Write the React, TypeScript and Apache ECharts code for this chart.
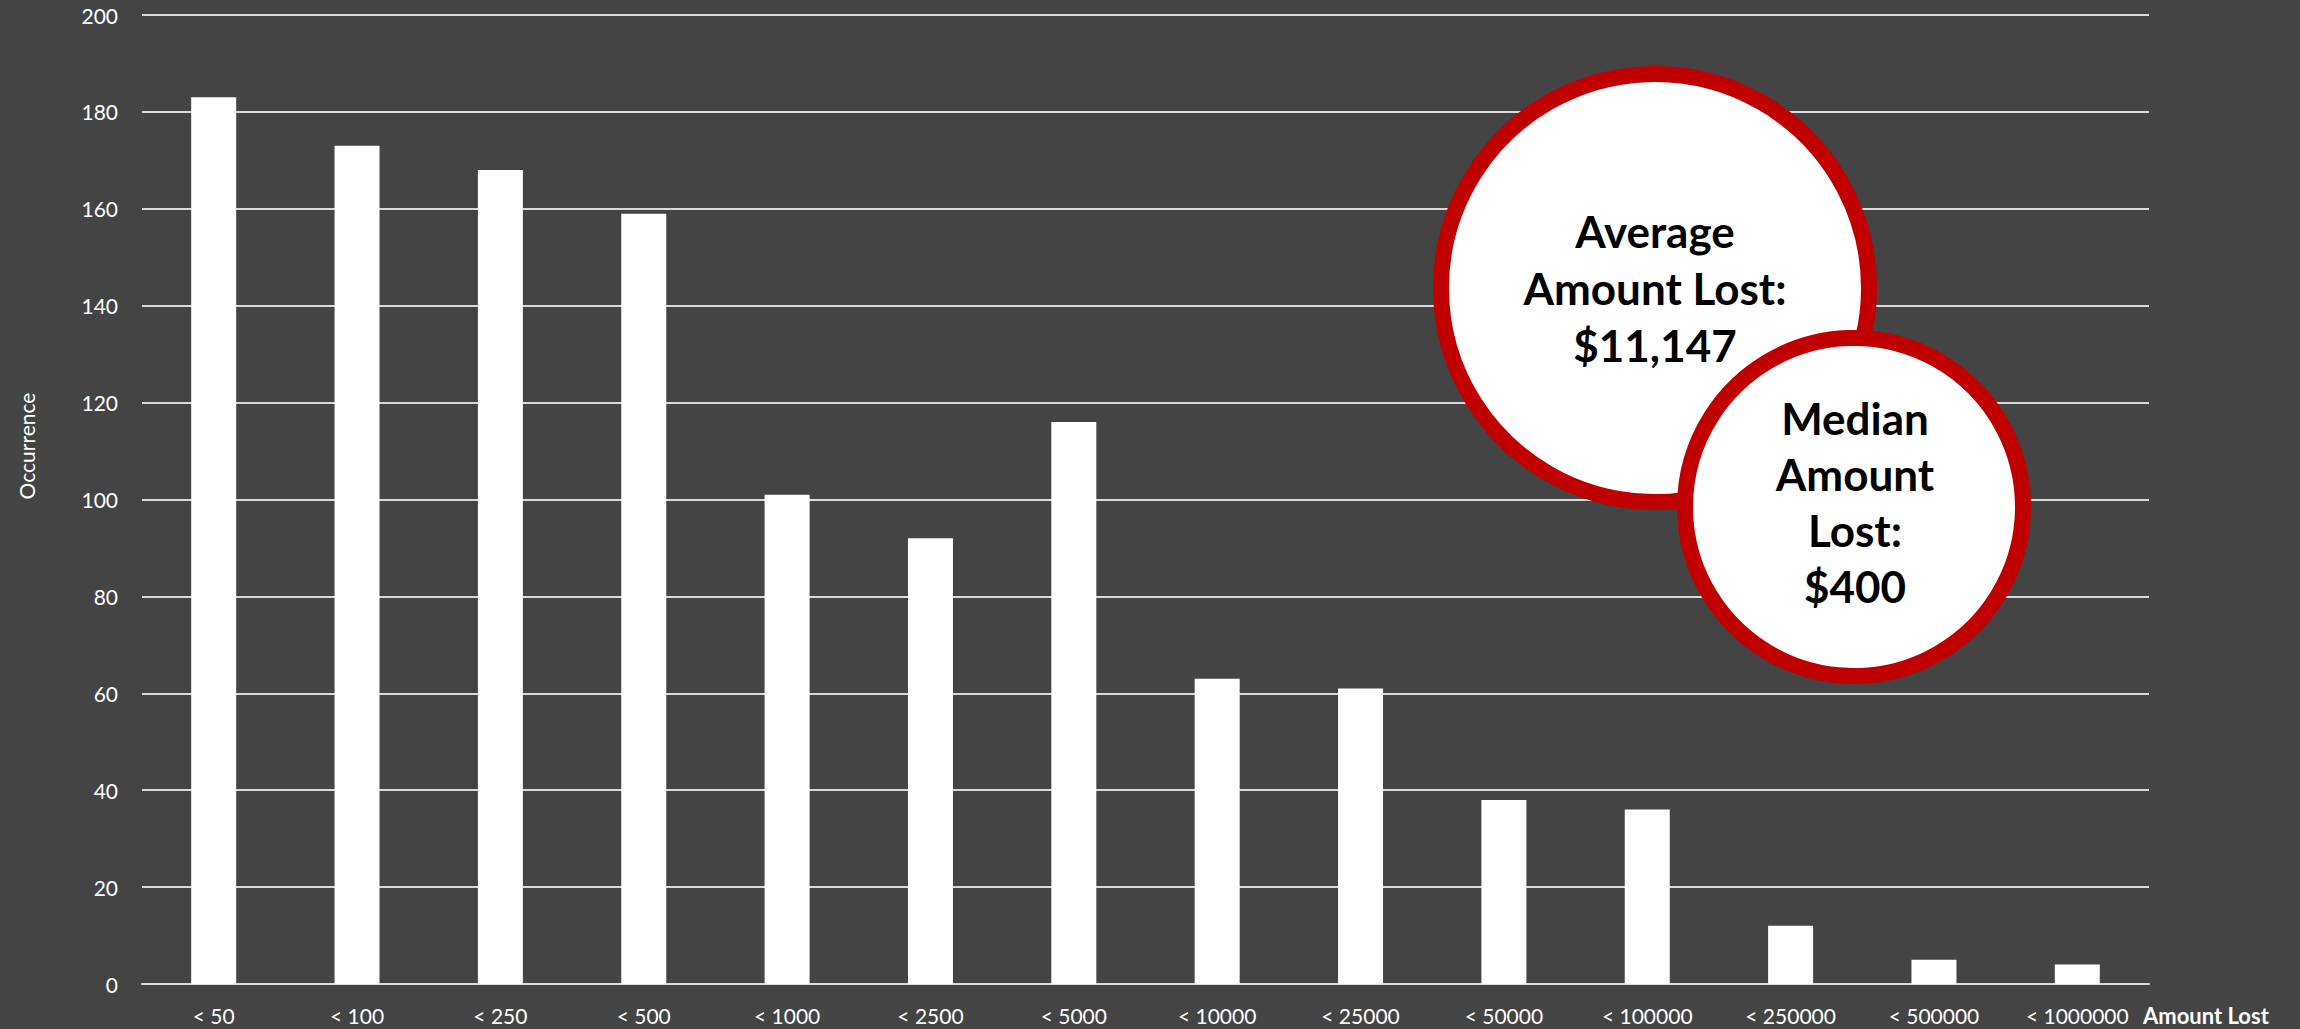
import React, { useEffect, useRef } from "react";
import * as echarts from "echarts";

const categories = ["< 50", "< 100", "< 250", "< 500", "< 1000", "< 2500", "< 5000", "< 10000", "< 25000", "< 50000", "< 100000", "< 250000", "< 500000", "< 1000000"];
const occurrences = [183, 173, 168, 159, 101, 92, 116, 63, 61, 38, 36, 12, 5, 4];
const yTicks = { min: 0, max: 200, interval: 20 };
const averageText = "Average\nAmount Lost:\n$11,147";
const medianText = "Median\nAmount\nLost:\n$400";
const xAxisTitle = "Amount Lost";
const yAxisTitle = "Occurrence";

const FONT = "Lato, 'Open Sans', sans-serif";

export default function App() {
  const ref = useRef<HTMLDivElement>(null);
  useEffect(() => {
    if (!ref.current) return;
    const chart = echarts.init(ref.current, null, { renderer: "svg" });
    chart.setOption({
      animation: false,
      backgroundColor: "#444444",
      grid: { left: 142, right: 151, top: 15, bottom: 45, containLabel: false },
      xAxis: {
        type: "category",
        data: categories,
        axisLine: { show: true, lineStyle: { color: "#d9d9d9", width: 2 } },
        axisTick: { show: false },
        axisLabel: { color: "#ffffff", fontSize: 21, fontFamily: FONT, margin: 21, interval: 0 },
      },
      yAxis: {
        type: "value",
        min: yTicks.min,
        max: yTicks.max,
        interval: yTicks.interval,
        axisLine: { show: false },
        axisTick: { show: false },
        axisLabel: { color: "#ffffff", fontSize: 21, fontFamily: FONT, margin: 24 },
        splitLine: { show: true, lineStyle: { color: "#d9d9d9", width: 2 } },
      },
      series: [
        {
          type: "bar",
          data: occurrences,
          barWidth: 45,
          itemStyle: { color: "#ffffff" },
        },
      ],
      graphic: [
        {
          type: "text",
          x: 26,
          y: 446,
          rotation: Math.PI / 2,
          style: {
            text: yAxisTitle,
            fill: "#ffffff",
            font: `21px ${FONT}`,
            textAlign: "center",
            textVerticalAlign: "middle",
          },
        },
        {
          type: "text",
          x: 2143,
          y: 1015,
          style: {
            text: xAxisTitle,
            fill: "#ffffff",
            font: `bold 22px ${FONT}`,
            textAlign: "left",
            textVerticalAlign: "middle",
          },
        },
        {
          type: "circle",
          shape: { cx: 1655, cy: 288, r: 214 },
          style: { fill: "#ffffff", stroke: "#C00000", lineWidth: 16 },
          z: 10,
        },
        {
          type: "text",
          x: 1655,
          y: 288,
          z: 11,
          style: {
            text: averageText,
            fill: "#000000",
            font: `bold 44px ${FONT}`,
            lineHeight: 57,
            textAlign: "center",
            textVerticalAlign: "middle",
          },
        },
        {
          type: "circle",
          shape: { cx: 1854, cy: 507, r: 169 },
          style: { fill: "#ffffff", stroke: "#C00000", lineWidth: 16 },
          z: 12,
        },
        {
          type: "text",
          x: 1855,
          y: 502,
          z: 13,
          style: {
            text: medianText,
            fill: "#000000",
            font: `bold 44px ${FONT}`,
            lineHeight: 56,
            textAlign: "center",
            textVerticalAlign: "middle",
          },
        },
      ],
    });
    return () => chart.dispose();
  }, []);
  return (
    <div
      ref={ref}
      style={{ position: "absolute", left: 0, top: 0, width: 2300, height: 1029 }}
    />
  );
}
